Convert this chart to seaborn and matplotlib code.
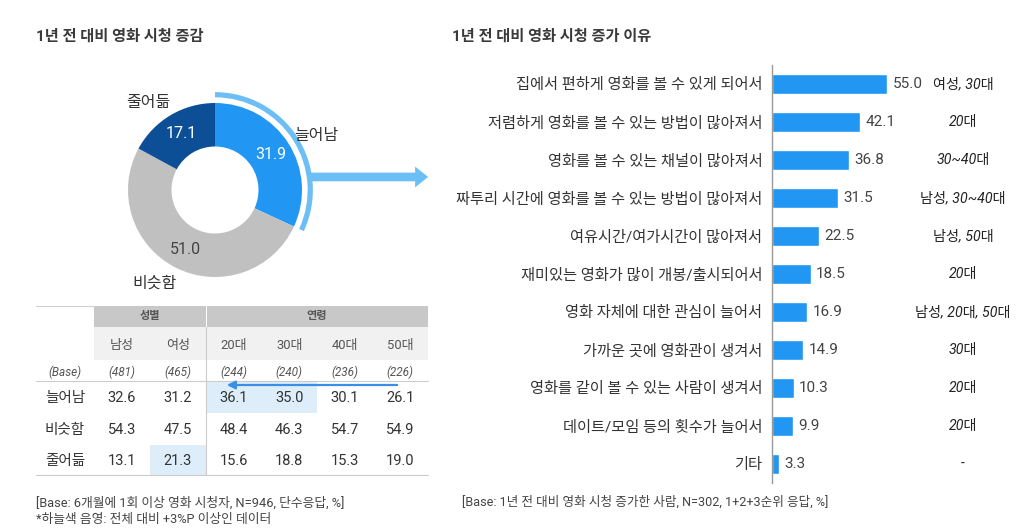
import numpy as np
import pandas as pd
import seaborn as sns
import matplotlib.pyplot as plt
from matplotlib.patches import Wedge, Rectangle, FancyArrow

# 데이터
change_labels = ['늘어남', '비슷함', '줄어듦']
change_pct = [31.9, 51.0, 17.1]

table_cols = ['남성', '여성', '20대', '30대', '40대', '50대']
table_base = [481, 465, 244, 240, 236, 226]
table_rows = ['늘어남', '비슷함', '줄어듦']
row_increase = [32.6, 31.2, 36.1, 35.0, 30.1, 26.1]
row_similar = [54.3, 47.5, 48.4, 46.3, 54.7, 54.9]
row_decrease = [13.1, 21.3, 15.6, 18.8, 15.3, 19.0]
highlight_cells = [(0, 2), (0, 3), (2, 1)]

reasons = ['집에서 편하게 영화를 볼 수 있게 되어서',
           '저렴하게 영화를 볼 수 있는 방법이 많아져서',
           '영화를 볼 수 있는 채널이 많아져서',
           '짜투리 시간에 영화를 볼 수 있는 방법이 많아져서',
           '여유시간/여가시간이 많아져서',
           '재미있는 영화가 많이 개봉/출시되어서',
           '영화 자체에 대한 관심이 늘어서',
           '가까운 곳에 영화관이 생겨서',
           '영화를 같이 볼 수 있는 사람이 생겨서',
           '데이트/모임 등의 횟수가 늘어서',
           '기타']
reason_pct = [55.0, 42.1, 36.8, 31.5, 22.5, 18.5, 16.9, 14.9, 10.3, 9.9, 3.3]
reason_notes = ['여성, 30대', '20대', '30~40대', '남성, 30~40대', '남성, 50대', '20대',
                '남성, 20대, 50대', '30대', '20대', '20대', '-']

sns.set_style('white')
plt.rcParams['font.family'] = ['Roboto', 'Noto Sans CJK KR', 'DejaVu Sans']

W, H = 1024, 529
BLUE = '#2196f3'
LIGHT = '#6cbff5'
NAVY = '#0d4f96'
GRAY = '#c0c0c0'
TXT = '#333333'

fig = plt.figure(figsize=(W / 100, H / 100), dpi=100)


def box(x0, y0, x1, y1):
    return [x0 / W, 1 - y1 / H, (x1 - x0) / W, (y1 - y0) / H]


# 배경 (픽셀 좌표) - 제목, 표, 주석
bg = fig.add_axes([0, 0, 1, 1])
bg.set_xlim(0, W)
bg.set_ylim(H, 0)
bg.axis('off')

bg.text(36, 37, '1년 전 대비 영화 시청 증감', fontsize=11, fontweight='bold', color='#3a3a3a', va='center')
bg.text(452, 37, '1년 전 대비 영화 시청 증가 이유', fontsize=11, fontweight='bold', color='#3a3a3a', va='center')

# 표
edges = [36, 94, 150, 206, 261.5, 317, 372.5, 428]
centers = [(edges[i] + edges[i + 1]) / 2 for i in range(1, 7)]
row_y = [381, 413, 445, 475]
bg.plot([36, 94], [306, 306], color='#d0d0d0', lw=0.8)
bg.add_patch(Rectangle((94, 306), 112, 21, color='#c8c8c8', lw=0))
bg.add_patch(Rectangle((207, 306), 221, 21, color='#c8c8c8', lw=0))
bg.add_patch(Rectangle((94, 327), 334, 33, color='#f1f1f1', lw=0))
bg.text(150, 316.5, '성별', ha='center', va='center', fontsize=8, fontweight='bold', color='#555')
bg.text(317, 316.5, '연령', ha='center', va='center', fontsize=8, fontweight='bold', color='#555')

for (r, c) in highlight_cells:
    bg.add_patch(Rectangle((edges[c + 1], row_y[r]), edges[c + 2] - edges[c + 1],
                           row_y[r + 1] - row_y[r], color='#ddeefa', lw=0))

for x, name, n in zip(centers, table_cols, table_base):
    bg.text(x, 345, name, ha='center', va='center', fontsize=9.4, color='#555')
    bg.text(x, 372, f'({n})', ha='center', va='center', fontsize=8.5, style='italic', color='#555')
bg.text(65, 372, '(Base)', ha='center', va='center', fontsize=8.5, style='italic', color='#555')

for i, (name, vals) in enumerate(zip(table_rows, [row_increase, row_similar, row_decrease])):
    y = (row_y[i] + row_y[i + 1]) / 2 + 1
    bg.text(65, y, name, ha='center', va='center', fontsize=10.5, color=TXT)
    for x, v in zip(centers, vals):
        bg.text(x, y, f'{v:.1f}', ha='center', va='center', fontsize=10.5, color=TXT)

bg.plot([36, 428], [381, 381], color='#cccccc', lw=0.8)
bg.plot([36, 428], [475, 475], color='#cccccc', lw=0.8)
bg.plot([206, 206], [327, 475], color='#cccccc', lw=0.8)
bg.annotate('', xy=(224, 385), xytext=(400, 385),
            arrowprops=dict(arrowstyle='-|>', color='#3a8ee6', lw=1.6, mutation_scale=12))

bg.text(36, 503, '[Base: 6개월에 1회 이상 영화 시청자, N=946, 단수응답, %]', fontsize=9.2, color='#444', va='center')
bg.text(36, 519, '*하늘색 음영: 전체 대비 +3%P 이상인 데이터', fontsize=9.2, color='#444', va='center')
bg.text(462, 502, '[Base: 1년 전 대비 영화 시청 증가한 사람, N=302, 1+2+3순위 응답, %]', fontsize=9.1, color='#444', va='center')

# 도넛
R = 87
ax_pie = fig.add_axes(box(0, 60, 440, 300))
wedges, texts, autotexts = ax_pie.pie(change_pct, colors=[BLUE, GRAY, NAVY], startangle=90, counterclock=False,
                                      radius=1, autopct='%.1f', pctdistance=0.76,
                                      wedgeprops=dict(width=0.5, edgecolor='none'),
                                      textprops=dict(fontsize=11.5))
for t, c in zip(autotexts, ['white', '#444', 'white']):
    t.set_color(c)
ax_pie.set_xlim(-215 / R, 225 / R)
ax_pie.set_ylim(-110 / R, 130 / R)
ax_pie.axis('off')

label_pos = [(1.17, 0.63), (-0.69, -1.07), (-0.77, 1.01)]
for (x, y), name in zip(label_pos, change_labels):
    ax_pie.text(x, y, name, ha='center', va='center', fontsize=11.5, color=TXT)

span = change_pct[0] * 3.6
ax_pie.add_patch(Wedge((0, 0), 1.125, 90 - span, 90, width=0.06, color=LIGHT, lw=0))
ax_pie.add_patch(FancyArrow(1.1, 0.15, 1.35, 0, width=0.1, head_width=0.24, head_length=0.15,
                            length_includes_head=True, color=LIGHT, lw=0))

# 막대 그래프
PX = 2.09
ax = fig.add_axes(box(772, 65, 1024, 483))
df = pd.DataFrame({'reason': reasons, 'pct': reason_pct})
sns.barplot(data=df, x='pct', y='reason', orient='h', color=BLUE, width=0.55, saturation=1, ax=ax)
ax.set_xlim(0, 252 / PX)
ax.set_xticks([])
ax.set_xlabel('')
ax.set_ylabel('')
ax.tick_params(axis='y', length=0, pad=7, labelsize=11, labelcolor=TXT)
sns.despine(ax=ax, bottom=True)
ax.spines['left'].set_color('#999999')
ax.spines['left'].set_linewidth(1)
ax.bar_label(ax.containers[0], fmt='%.1f', padding=4, fontsize=11, color='#444')
for i, note in enumerate(reason_notes):
    ax.text((963 - 772) / PX, i, note, ha='center', va='center', fontsize=10.2, style='italic', color='#222')

fig.savefig('out.png', dpi=100)
